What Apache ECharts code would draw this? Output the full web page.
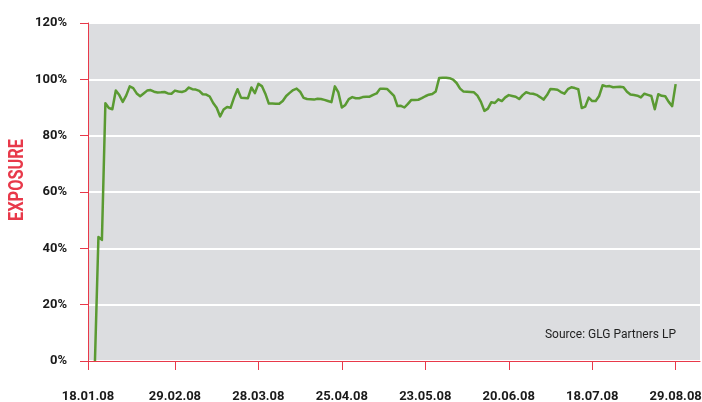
<!DOCTYPE html>
<html>
<head>
<meta charset="utf-8">
<script src="https://cdn.jsdelivr.net/npm/echarts@6/dist/echarts.min.js"></script>
<style>
  html, body { margin: 0; padding: 0; background: #ffffff; }
  #chart { width: 702px; height: 402px; }
</style>
</head>
<body>
<div id="chart"></div>
<script>
// ---- data ----
const tickLabels = ['18.01.08', '29.02.08', '28.03.08', '25.04.08', '23.05.08', '20.06.08', '18.07.08', '29.08.08'];
const tickPositions = [0, 25, 49, 73, 97, 121, 145, 169];
const slotCount = 177;
const yTickLabels = ['0%', '20%', '40%', '60%', '80%', '100%', '120%'];
const exposure = [
  null, null, 0, 44, 43, 91.5, 89.8, 89.4, 96, 94.4,
  92.0, 94.3, 97.5, 96.9, 95.0, 94.0, 95.0, 96.0, 96.2, 95.6,
  95.35, 95.4, 95.5, 95.0, 94.9, 96.0, 95.7, 95.5, 95.9, 97.1,
  96.5, 96.35, 95.9, 94.7, 94.6, 93.9, 91.6, 89.9, 86.8, 89.3,
  90.2, 89.9, 93.5, 96.5, 93.5, 93.4, 93.3, 97.1, 95.1, 98.4,
  97.6, 94.9, 91.4, 91.4, 91.35, 91.3, 92.3, 94.1, 95.2, 96.2,
  96.7, 95.6, 93.4, 93.0, 92.9, 92.8, 93.1, 93.0, 92.7, 92.3,
  91.9, 97.5, 95.35, 90.0, 90.9, 93.0, 93.7, 93.3, 93.3, 93.7,
  93.8, 93.85, 94.5, 95.0, 96.7, 96.65, 96.6, 95.4, 94.1, 90.5,
  90.6, 90.0, 91.3, 92.7, 92.7, 92.75, 93.3, 94.0, 94.55, 94.8,
  95.7, 100.5, 100.6, 100.6, 100.4, 99.9, 98.7, 96.7, 95.65, 95.6,
  95.5, 95.4, 94.2, 92.0, 88.8, 89.6, 91.9, 91.6, 92.9, 92.3,
  93.6, 94.4, 94.1, 93.8, 93.0, 94.4, 95.4, 95.0, 94.9, 94.5,
  93.7, 92.8, 94.4, 96.6, 96.5, 96.3, 95.5, 94.9, 96.5, 97.2,
  96.9, 96.5, 89.8, 90.3, 93.5, 92.3, 92.3, 94.1, 97.9, 97.5,
  97.6, 97.2, 97.3, 97.35, 97.2, 95.6, 94.6, 94.4, 94.2, 93.6,
  94.9, 94.5, 94.1, 89.4, 94.7, 94.15, 94.0, 92.0, 90.5, 98.3
];
const sourceText = 'Source: GLG Partners LP';
const yAxisTitle = 'EXPOSURE';

// ---- build categories ----
const categories = [];
for (let i = 0; i < slotCount; i++) categories.push('');
tickPositions.forEach((p, j) => { categories[p] = tickLabels[j]; });

const RED = '#e8394a';
const FONT = 'Roboto, "Liberation Sans", sans-serif';

const chart = echarts.init(document.getElementById('chart'), null, { renderer: 'canvas' });
chart.setOption({
  animation: false,
  backgroundColor: '#ffffff',
  grid: {
    left: 88, right: 2, top: 23, bottom: 41,
    containLabel: false,
    outerBoundsMode: 'none',
    show: true, backgroundColor: '#dcdde0', borderWidth: 0
  },
  title: {
    text: sourceText,
    right: 26, top: 329, padding: 0,
    textStyle: { fontFamily: FONT, fontSize: 12, fontWeight: 'normal', color: '#222222' }
  },
  graphic: [{
    type: 'text',
    x: 18, y: 180,
    rotation: Math.PI / 2,
    scaleX: 0.78,
    style: {
      text: yAxisTitle,
      fill: RED,
      font: 'bold 21px ' + FONT,
      textAlign: 'center',
      textVerticalAlign: 'middle'
    }
  }],
  xAxis: {
    type: 'category',
    data: categories,
    boundaryGap: false,
    axisLine: { show: true, lineStyle: { color: RED, width: 1 } },
    axisTick: {
      show: true, length: 9, lineStyle: { color: RED, width: 1 },
      interval: (idx, val) => val !== ''
    },
    axisLabel: {
      interval: (idx, val) => val !== '',
      margin: 29,
      hideOverlap: false,
      fontFamily: FONT, fontSize: 13, fontWeight: 'bold', color: '#1a1a1a'
    },
    splitLine: { show: false }
  },
  yAxis: {
    type: 'value',
    min: 0, max: 120, interval: 20,
    axisLine: { show: true, lineStyle: { color: RED, width: 1 } },
    axisTick: { show: true, length: 8, lineStyle: { color: RED, width: 1 } },
    axisLabel: {
      formatter: v => yTickLabels[Math.round(v / 20)],
      margin: 21,
      fontFamily: FONT, fontSize: 13, fontWeight: 'bold', color: '#1a1a1a'
    },
    splitLine: { show: true, lineStyle: { color: '#ffffff', width: 2 } }
  },
  series: [{
    type: 'line',
    data: exposure,
    showSymbol: false,
    connectNulls: false,
    lineStyle: { color: '#5a9a32', width: 2.5, join: 'round' },
    itemStyle: { color: '#5a9a32' },
    z: 3
  }]
});
</script>
</body>
</html>
